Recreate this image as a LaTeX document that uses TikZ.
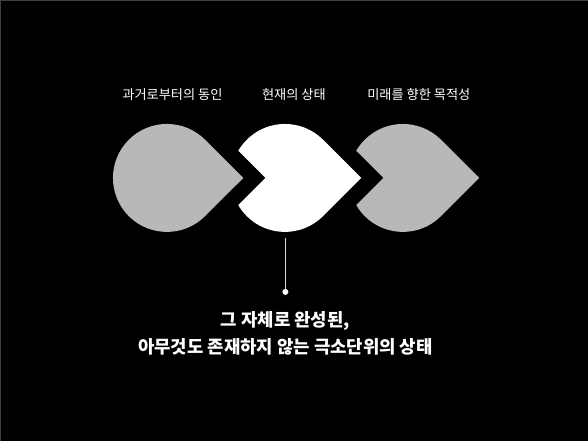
\documentclass[tikz,border=0pt]{standalone}
\usepackage{fontspec}
\setmainfont{Noto Sans CJK KR}
\usetikzlibrary{calc}
\definecolor{petal}{RGB}{184,184,184}
\definecolor{frame}{RGB}{64,64,64}

\newcommand{\droppath}[1]{($(#1)+(76.4,0)$) -- ($(#1)+(45:54)$) arc[start angle=45, end angle=315, radius=54] -- cycle}

\begin{document}
\begin{tikzpicture}[x=1pt, y=1pt]
            \tikzset{
                gap/.style = {draw = black, line width = 31pt, line join = miter},
                label/.style = {text = white, font = \fontsize{13.2}{15}\selectfont}
            }
            \fill[black] (0, 0) rectangle (588, 441);
            \draw[frame] (0.5, 0) -- (0.5, 440.5) -- (588, 440.5);
            \useasboundingbox (0, 0) rectangle (588, 441);

            \coordinate (past) at (167, 263);
            \coordinate (present) at (285, 263);
            \coordinate (future) at (403, 263);

            % back to front, each stroke cuts the notch of the next one
            \fill[petal] \droppath{future};
            \path[gap] \droppath{present};
            \fill[white] \droppath{present};
            \path[gap] \droppath{past};
            \fill[petal] \droppath{past};

            \node[label] (label_past) at (172.5, 346) {과거로부터의 동인};
            \node[label] (label_present) at (294, 346) {현재의 상태};
            \node[label] (label_future) at (419, 346) {미래를 향한 목적성};

            \coordinate (stem) at (285.5, 203);
            \node[circle, fill = white, inner sep = 0pt, minimum size = 6pt] (dot) at (285.5, 149) {};
            \draw[white!85!black, line width = 1pt] (stem) -- (dot);

            \node[text = white, align = center, font = \bfseries\fontsize{17.8}{27}\selectfont] (desc) at (285.5, 108) {그 자체로 완성된,\\아무것도 존재하지 않는 극소단위의 상태};
        \end{tikzpicture}
\end{document}
